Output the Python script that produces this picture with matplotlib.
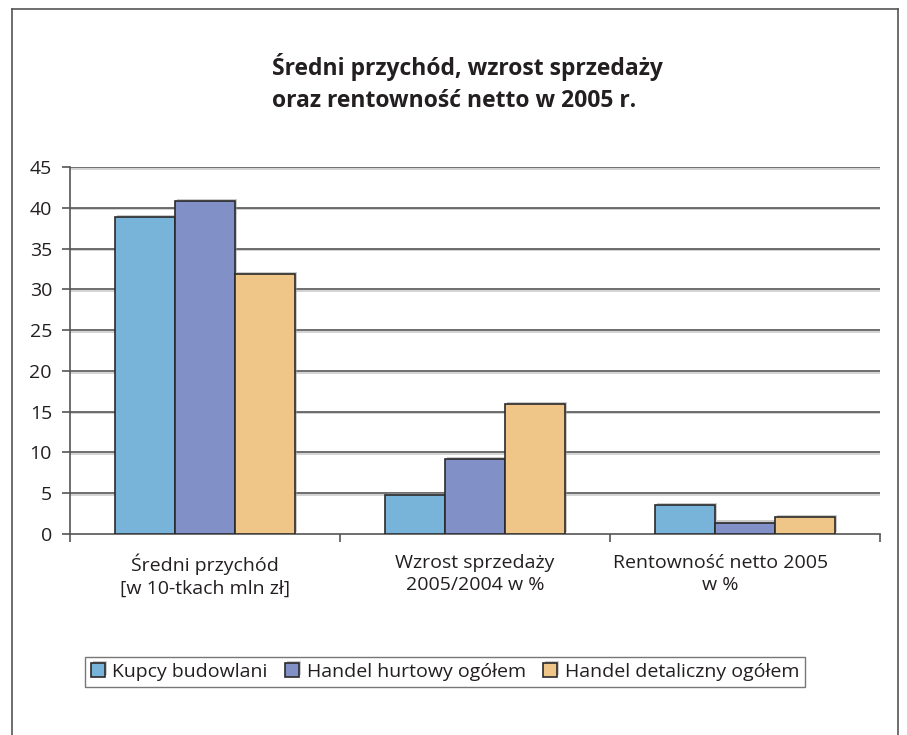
import matplotlib
matplotlib.use("Agg")
import matplotlib.pyplot as plt
import matplotlib.patheffects as pe
from matplotlib.lines import Line2D
import numpy as np

# Data
categories = ["Średni przychód\n[w 10-tkach mln zł]",
              "Wzrost sprzedaży\n2005/2004 w %",
              "Rentowność netto 2005\nw %"]
series_names = ["Kupcy budowlani", "Handel hurtowy ogółem", "Handel detaliczny ogółem"]
kupcy = [38.9, 4.8, 3.5]
hurt = [40.8, 9.2, 1.4]
detal = [31.9, 15.9, 2.1]
colors = ["#78B4D9", "#8290C8", "#F0C688"]

plt.rcParams['font.family'] = ['Open Sans', 'DejaVu Sans']
txt_col = '#231f20'

fig = plt.figure(figsize=(9.07, 7.35), dpi=100)
ax = fig.add_axes([70/907, 1-534/735, 810/907, 367/735])

x = np.arange(len(categories))
w = 0.222
shadow = [pe.SimplePatchShadow(offset=(1.5, 1.5), shadow_rgbFace='#999999', alpha=0.5), pe.Normal()]
for i, (vals, name) in enumerate(zip([kupcy, hurt, detal], series_names)):
    ax.bar(x + (i - 1) * w, vals, w, color=colors[i], edgecolor='#2a2a2a',
           linewidth=1.2, label=name, zorder=3, path_effects=shadow)

ax.set_xlim(-0.5, 2.5)
ax.set_ylim(0, 45)
ax.set_yticks(np.arange(0, 46, 5))
for yv in np.arange(5, 46, 5):
    ax.axhline(yv, color='#555555', linewidth=1.2, zorder=1,
               path_effects=[pe.SimpleLineShadow(offset=(0, -1.2), shadow_color='#aaaaaa', alpha=0.6), pe.Normal()])

ax.set_xticks([-0.5, 0.5, 1.5, 2.5])
ax.set_xticklabels([])
ax.tick_params(axis='x', length=6, color='#555555', width=1.2, direction='out')
ax.tick_params(axis='y', length=6, color='#555555', width=1.2, direction='out',
               labelsize=14, labelcolor=txt_col, pad=7)
for s in ['top', 'right']:
    ax.spines[s].set_visible(False)
for s in ['left', 'bottom']:
    ax.spines[s].set_color('#555555')
    ax.spines[s].set_linewidth(1.2)

# last label sits a bit left of its group in the original
label_shift = [0, 0, -0.09]
for xi, lab, dx in zip(x, categories, label_shift):
    ax.text(xi + dx, -2.4, lab, ha='center', va='top', fontsize=14, color=txt_col,
            linespacing=1.35)

fig.text(272/907, 1-83/735, "Średni przychód, wzrost sprzedaży\noraz rentowność netto w 2005 r.",
         ha='left', va='center', fontsize=16.5, fontweight='bold', color=txt_col,
         linespacing=1.4, multialignment='left')

leg = fig.legend(loc='center', bbox_to_anchor=(445/907, 1-672/735), ncol=3, fontsize=14,
                 frameon=True, fancybox=False, edgecolor='#555555', handlelength=0.7,
                 handleheight=0.7, handletextpad=0.4, columnspacing=0.9,
                 borderpad=0.3, borderaxespad=0, labelcolor=txt_col)
leg.get_frame().set_linewidth(1.0)

# outer frame
fc = '#555555'
fig.add_artist(Line2D([12/907, 12/907], [0, 1-9/735], color=fc, lw=1.2))
fig.add_artist(Line2D([12/907, 898/907], [1-9/735, 1-9/735], color=fc, lw=1.2))
fig.add_artist(Line2D([898/907, 898/907], [0, 1-9/735], color=fc, lw=1.2))

fig.savefig("out.png", dpi=100, facecolor='white')
